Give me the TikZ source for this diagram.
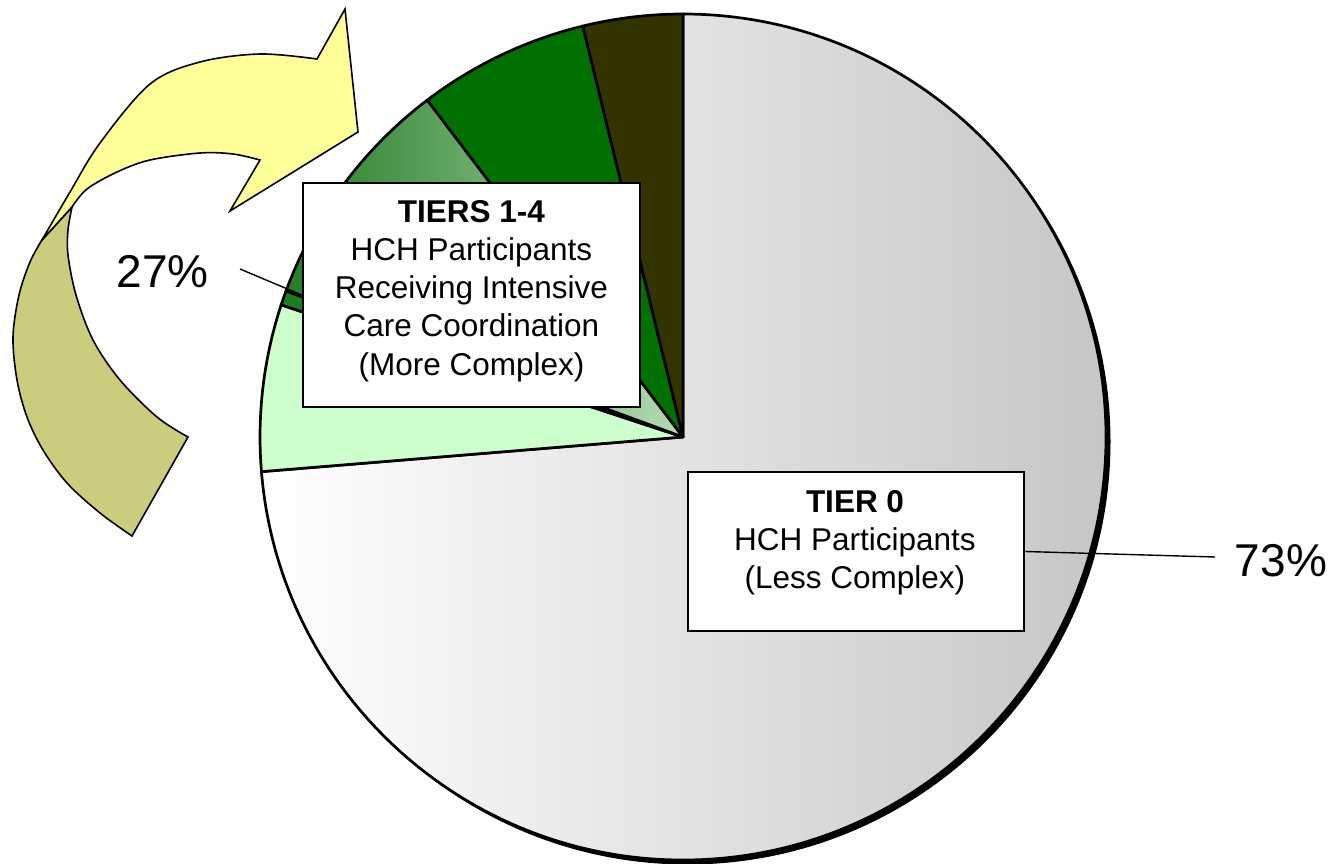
\documentclass[tikz,border=0pt]{standalone}
\usepackage{fontspec}
\setmainfont{Liberation Sans}
\definecolor{piegray}{HTML}{C6C6C6}
\definecolor{lightgreen}{HTML}{CCFFCC}
\definecolor{thingreen}{HTML}{1E7E1E}
\definecolor{gradleft}{HTML}{267D26}
\definecolor{gradright}{HTML}{B4DCB4}
\definecolor{midgreen}{HTML}{007000}
\definecolor{darkolive}{HTML}{333300}
\definecolor{arrowolive}{HTML}{CCCC7F}
\definecolor{arrowyellow}{HTML}{FFFF99}
\begin{document}
\begin{tikzpicture}[x=1pt,y=1pt,
  slice/.style={draw=black, line width=2.7pt, line join=round},
  tbox/.style={draw=black, fill=white, line width=2.6pt, inner sep=0pt},
  boxtext/.style={align=center, font=\fontsize{31.5}{38.2}\selectfont, inner sep=0pt},
  pct/.style={font=\fontsize{46}{50}\selectfont, inner sep=0pt, anchor=base},
  leader/.style={draw=black, line width=1.4pt},
  arrowpart/.style={draw=black, line width=1.6pt, line join=miter}]
\useasboundingbox (0,0) rectangle (1335,-864);
\coordinate (C) at (683,-437);
\def\R{423}
% curved arrow
\draw[arrowpart, fill=arrowolive] plot[smooth, tension=0.55] coordinates {(42,-240) (30,-262) (19,-295) (13,-337) (17,-380) (27,-417) (43,-450) (67,-483) (100,-513) (132,-536)} -- plot[smooth, tension=0.55] coordinates {(188,-437) (157,-417) (120,-380) (93,-340) (76,-295) (68,-255) (68,-230) (72,-207)} -- cycle;
\draw[arrowpart, fill=arrowyellow] plot[smooth, tension=0.55] coordinates {(42,-240) (70,-192) (100,-143) (150,-84) (200,-62) (260,-54) (317,-59)} -- (345,-9) -- (358,-132) -- (230,-211) -- plot[smooth, tension=0.55] coordinates {(260,-160) (233,-154) (200,-153) (150,-160) (117,-172) (87,-189) (72,-207)} -- cycle;
% pie shadow
\fill[black] (687.5,-441.5) circle[radius=\R];
% slices
\draw[slice, left color=white, right color=piegray] (C) -- ++(90:\R) arc[start angle=90, end angle=-175.3, radius=\R] -- cycle;
\draw[slice, fill=lightgreen] (C) -- ++(161.8:\R) arc[start angle=161.8, end angle=184.7, radius=\R] -- cycle;
\draw[slice, fill=thingreen] (C) -- ++(159.8:\R) arc[start angle=159.8, end angle=161.8, radius=\R] -- cycle;
\draw[slice, left color=gradleft, right color=gradright] (C) -- ++(127.2:\R) arc[start angle=127.2, end angle=159.8, radius=\R] -- cycle;
\draw[slice, fill=midgreen] (C) -- ++(103.7:\R) arc[start angle=103.7, end angle=127.2, radius=\R] -- cycle;
\draw[slice, fill=darkolive] (C) -- ++(90:\R) arc[start angle=90, end angle=103.7, radius=\R] -- cycle;
% label boxes
\node[tbox, minimum width=337pt, minimum height=224pt] (box1) at (471.5,-295) {};
\node[boxtext] (txt1) at (471.5,-291) {\textbf{TIERS 1-4}\\HCH Participants\\Receiving Intensive\\Care Coordination\\(More Complex)};
\node[tbox, minimum width=336pt, minimum height=159pt] (box2) at (856,-551.5) {};
\node[boxtext] (txt2) at (855,-542.5) {\textbf{TIER 0}\\HCH Participants\\(Less Complex)};
% percentages and leaders
\node[pct] (p27) at (162.5,-287) {27\%};
\node[pct] (p73) at (1281,-576) {73\%};
\coordinate (l27) at (240,-269);
\coordinate (l73) at (1215,-557);
\draw[leader] (l27) -- (box1.west);
\draw[leader] (box2.east) -- (l73);
\end{tikzpicture}
\end{document}
